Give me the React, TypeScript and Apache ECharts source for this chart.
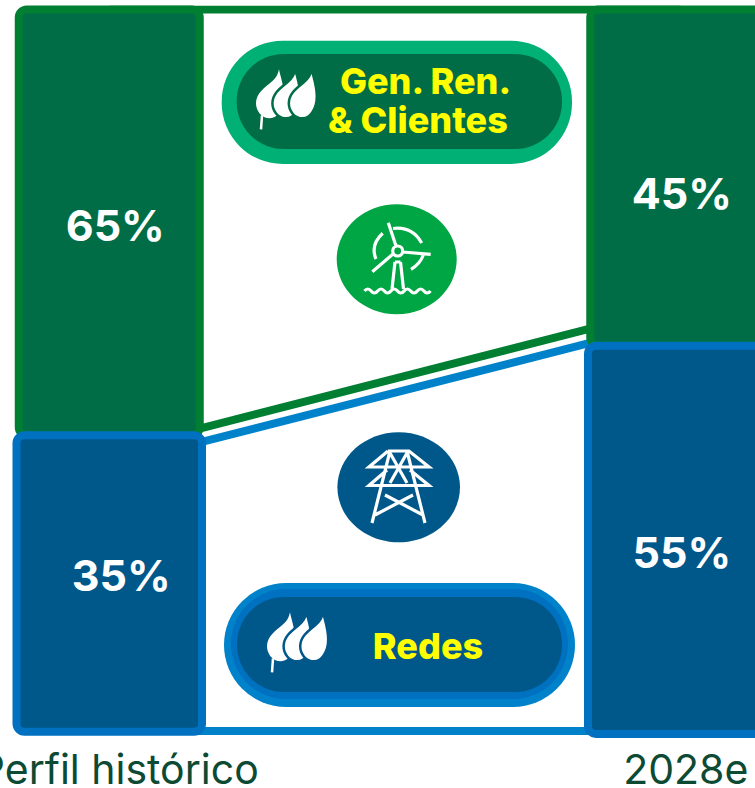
import React, { useEffect, useRef } from "react";
import * as echarts from "echarts";

const categories = ["Perfil histórico", "2028e"];
// Drawn extents of the segments, on a 0-100 axis (the picture's heights, not the printed shares)
const greenLow = [41, 53.4];
const greenHigh = [100, 100];
const blueLow = [-0.1, -0.4];
const blueHigh = [41, 53.4];
const greenLabels = ["65%", "45%"];
const blueLabels = ["35%", "55%"];
const connectorTop = [100, 100];
const connectorGreen = [38.7, 59.0];
const connectorBlue = [36.8, 57.0];
const connectorBottom = [0, 0];

const FONT = "Inter";
const GREEN_FILL = "#006d46";
const GREEN_EDGE = "#007f33";
const BLUE_FILL = "#00588a";
const BLUE_EDGE = "#0070c0";
const BLUE_LINE = "#0082ca";

const LEAF =
  "M0 0 C1 6 5 16 5 27 C5 40 -2 49 -9 49 C-18 49 -23 41 -23 34 C-23 24 -14 18 -8 13 C-3 9 -1 5 0 0 Z";
const TURBINE =
  "M402.7 251 a5 5 0 1 0 -10 0 a5 5 0 1 0 10 0 M396 246 L388.3 222.7 M403 252 L430.7 254.3 M393 254 L372.3 271.7 " +
  "M395 262 L392 289 M400.5 262 L403.5 289 M395 262 L400.5 262 " +
  "M393 228.5 Q412 226 421.7 243 M382.7 233.3 Q370 245 376 259 M423.3 255 Q420 264 411 269.3 " +
  "M364.5 291 q3.3 -4 6.6 0 t6.6 0 t6.6 0 t6.6 0 t6.6 0 t6.6 0 t6.6 0 t6.6 0 t6.6 0 t6.6 0";
const TOWER =
  "M388 451 L409 451 L429 467 L369 467 L388 451 M387 470 L369 485.5 L429 485.5 L410 470 " +
  "M390 451 L372 523 M407 451 L425 523 M390 453 L407 483 M407 453 L390 483 " +
  "M385 495 L423 515 M413 495 L375 515";
echarts.graphic.registerShape("leafShape", echarts.graphic.extendPath(LEAF, {}));
echarts.graphic.registerShape("turbineShape", echarts.graphic.extendPath(TURBINE, {}));
echarts.graphic.registerShape("towerShape", echarts.graphic.extendPath(TOWER, {}));

function leaves(tipX: number, tipY: number, dx: number, bg: string) {
  const parts: any[] = [];
  [0, 1, 2].forEach((i) => {
    parts.push({
      type: "leafShape",
      x: tipX + i * dx,
      y: tipY,
      z: 20,
      style: { fill: "#fff", stroke: i === 0 ? "#fff" : bg, lineWidth: i === 0 ? 0 : 2.5 },
    });
  });
  parts.push({
    type: "line",
    z: 20,
    shape: { x1: tipX - 17, y1: tipY + 46, x2: tipX - 18, y2: tipY + 60 },
    style: { stroke: "#fff", lineWidth: 2.5 },
  });
  return parts;
}

function pillText(text: string, x: number, y: number) {
  return {
    type: "text",
    x,
    y,
    z: 21,
    style: {
      text,
      fill: "#ffff00",
      font: `800 36px ${FONT}`,
      textAlign: "center",
      textVerticalAlign: "middle",
    },
  };
}

function barSeries(
  low: number[],
  high: number[],
  labels: string[],
  width: number,
  fill: string,
  edge: string,
  dx: number[],
  dy: number[],
  z: number,
) {
  return {
    type: "custom",
    z,
    data: low.map((l, i) => [i, l, high[i]]),
    encode: { x: 0, y: [1, 2] },
    renderItem: (_p: any, api: any) => {
      const i = api.value(0);
      const a = api.coord([i, api.value(2)]);
      const b = api.coord([i, api.value(1)]);
      return {
        type: "group",
        children: [
          {
            type: "rect",
            shape: { x: a[0] - width / 2, y: a[1], width, height: b[1] - a[1], r: 8 },
            style: { fill, stroke: edge, lineWidth: 8 },
          },
          {
            type: "text",
            style: {
              text: labels[i],
              x: a[0] + dx[i],
              y: (a[1] + b[1]) / 2 + dy[i],
              fill: "#fff",
              fontSize: 43,
              fontWeight: "bold",
              fontFamily: FONT,
              textAlign: "center",
              textVerticalAlign: "middle",
            },
          },
        ],
      };
    },
  };
}

function connector(data: number[], color: string) {
  return {
    type: "line",
    z: 1,
    data,
    symbol: "none",
    silent: true,
    lineStyle: { color, width: 8 },
  };
}

export default function App() {
  const ref = useRef<HTMLDivElement>(null);
  useEffect(() => {
    document.body.style.margin = "0";
    const chart = echarts.init(ref.current!, null, { renderer: "svg" });
    chart.setOption({
      animation: false,
      grid: { left: -176.5, width: 1143, top: 9.5, height: 721.5, containLabel: false, outerBoundsMode: "none" },
      xAxis: {
        type: "category",
        data: [
          { value: categories[0], textStyle: { padding: [0, 0, 0, 19] } },
          { value: categories[1], textStyle: { padding: [0, 0, 0, 10] } },
        ],
        axisLine: { show: false },
        axisTick: { show: false },
        axisLabel: { interval: 0, margin: 17, fontSize: 41, fontFamily: FONT, color: "#0c4a34", hideOverlap: false },
      },
      yAxis: { type: "value", min: 0, max: 100, show: false, splitLine: { show: false } },
      series: [
        connector(connectorTop, GREEN_EDGE),
        connector(connectorGreen, GREEN_EDGE),
        connector(connectorBlue, BLUE_LINE),
        connector(connectorBottom, BLUE_LINE),
        barSeries(greenLow, greenHigh, greenLabels, 181, GREEN_FILL, GREEN_EDGE, [6, 1], [3, 15], 2),
        barSeries(blueLow, blueHigh, blueLabels, 185.5, BLUE_FILL, BLUE_EDGE, [12, 1], [-8, 12], 3),
      ],
      graphic: [
        { type: "rect", z: 10, shape: { x: 221.7, y: 40.7, width: 350.3, height: 123.3, r: 61 }, style: { fill: "#00b074" } },
        { type: "rect", z: 11, shape: { x: 236.7, y: 54, width: 325.3, height: 95, r: 47 }, style: { fill: GREEN_FILL } },
        ...leaves(279, 69.3, 16.4, GREEN_FILL),
        pillText("Gen. Ren.", 425.5, 81),
        pillText("& Clientes", 418, 120),
        { type: "ellipse", z: 10, shape: { cx: 396.7, cy: 259.3, rx: 60, ry: 55 }, style: { fill: "#00a544" } },
        { type: "turbineShape", z: 20, x: 0, y: 0, style: { fill: "none", stroke: "#fff", lineWidth: 3.2 } },
        { type: "ellipse", z: 10, shape: { cx: 398.7, cy: 487.3, rx: 61.3, ry: 55 }, style: { fill: BLUE_FILL } },
        { type: "towerShape", z: 20, x: 0, y: 0, style: { fill: "none", stroke: "#fff", lineWidth: 3.2 } },
        { type: "rect", z: 10, shape: { x: 224, y: 583, width: 351, height: 124, r: 62 }, style: { fill: BLUE_LINE } },
        { type: "rect", z: 11, shape: { x: 231, y: 589, width: 337, height: 110, r: 55 }, style: { fill: BLUE_EDGE } },
        { type: "rect", z: 12, shape: { x: 237, y: 597, width: 325, height: 95, r: 47 }, style: { fill: BLUE_FILL } },
        ...leaves(290, 612.3, 16.6, BLUE_FILL),
        pillText("Redes", 428, 646),
      ],
    });
    return () => chart.dispose();
  }, []);
  return <div ref={ref} style={{ width: 755, height: 788, overflow: "hidden" }} />;
}
